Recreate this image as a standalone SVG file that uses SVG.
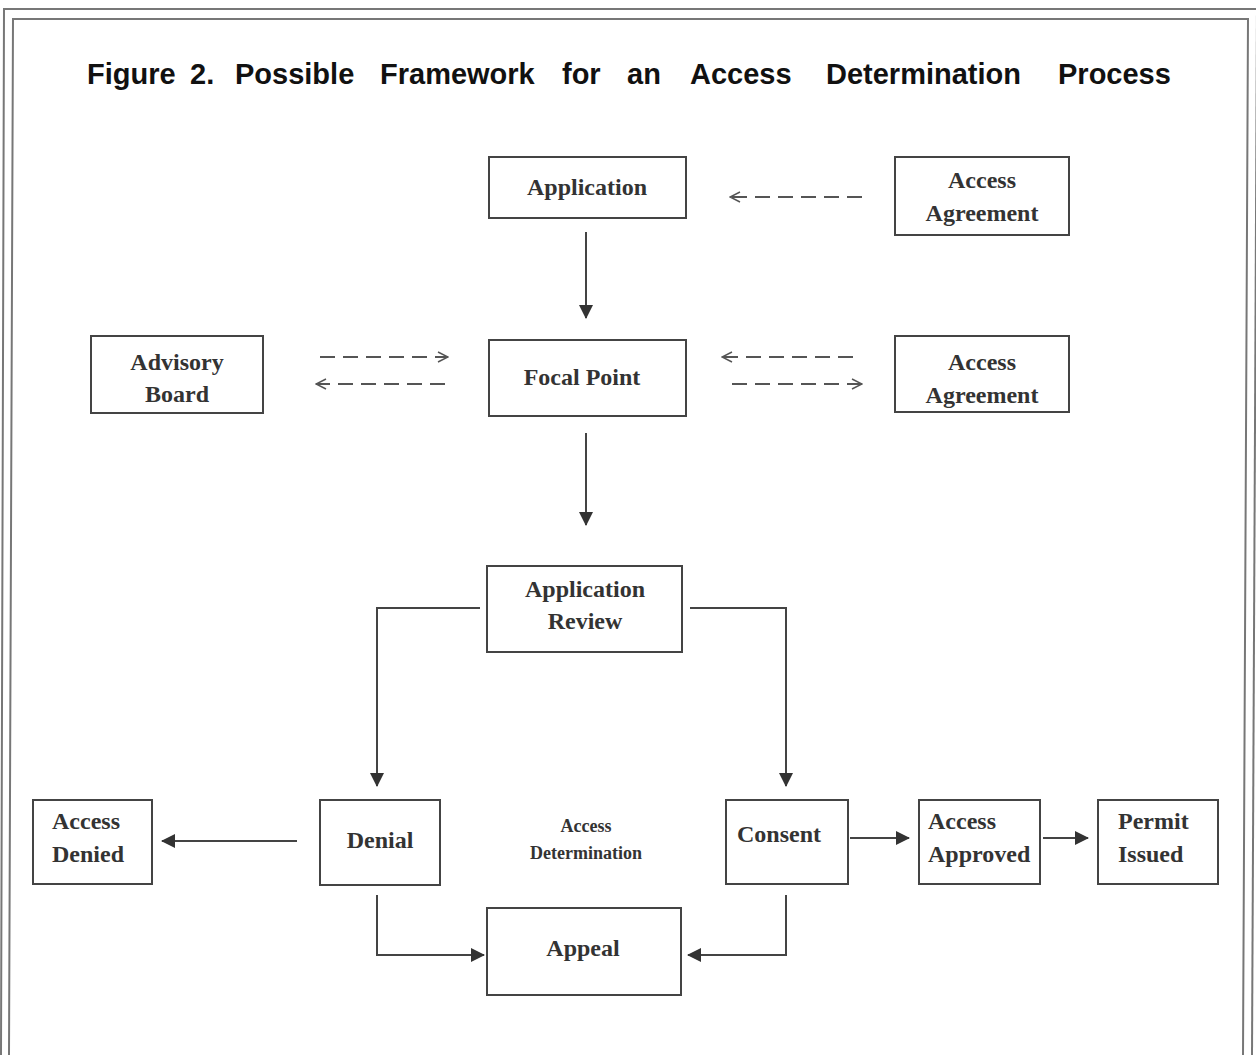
<svg xmlns="http://www.w3.org/2000/svg" width="1256" height="1055" viewBox="0 0 1256 1055">
<style>
.frame{fill:none;stroke:#777;stroke-width:2}
.box{fill:#fff;stroke:#444;stroke-width:2}
.t{font-family:"Liberation Serif","Times New Roman",serif;font-weight:bold;font-size:24px;fill:#333}
.small{font-size:18px}
.title{font-family:"Liberation Sans",Arial,sans-serif;font-weight:bold;font-size:29px;fill:#111}
.solid{fill:none;stroke:#444;stroke-width:2}
.dash{fill:none;stroke:#555;stroke-width:2;stroke-dasharray:15 8}
</style>
<defs>
<marker id="fa" viewBox="0 0 14 14" refX="13" refY="7" markerWidth="14" markerHeight="14" markerUnits="userSpaceOnUse" orient="auto">
<path d="M0,0 L14,7 L0,14 Z" fill="#333"/>
</marker>
<marker id="oa" viewBox="0 0 12 12" refX="11" refY="6" markerWidth="12" markerHeight="12" markerUnits="userSpaceOnUse" orient="auto">
<path d="M1,1 L11,6 L1,11" fill="none" stroke="#555" stroke-width="1.5"/>
</marker>
</defs>
<rect width="1256" height="1055" fill="#fff"/>
<g id="frame">
<path class="frame" d="M1,1055 L4,9 L1257,9"/>
<path class="frame" d="M9,1055 L13,19 L1248,19 L1243,1055"/>
<path class="frame" d="M1257,9 L1252,1055"/>
</g>
<text class="title" y="84"><tspan x="87">Figure</tspan><tspan x="190">2.</tspan><tspan x="235">Possible</tspan><tspan x="380">Framework</tspan><tspan x="562">for</tspan><tspan x="627">an</tspan><tspan x="690">Access</tspan><tspan x="826">Determination</tspan><tspan x="1058">Process</tspan></text>
<g id="connectors">
<line class="solid" x1="586" y1="232" x2="586" y2="318" marker-end="url(#fa)"/>
<line class="solid" x1="586" y1="433" x2="586" y2="525" marker-end="url(#fa)"/>
<line class="dash" x1="862" y1="197" x2="730" y2="197" marker-end="url(#oa)"/>
<line class="dash" x1="320" y1="357" x2="448" y2="357" marker-end="url(#oa)"/>
<line class="dash" x1="445" y1="384" x2="316" y2="384" marker-end="url(#oa)"/>
<line class="dash" x1="853" y1="357" x2="722" y2="357" marker-end="url(#oa)"/>
<line class="dash" x1="732" y1="384" x2="862" y2="384" marker-end="url(#oa)"/>
<polyline class="solid" points="480,608 377,608 377,786" marker-end="url(#fa)"/>
<polyline class="solid" points="690,608 786,608 786,786" marker-end="url(#fa)"/>
<line class="solid" x1="297" y1="841" x2="162" y2="841" marker-end="url(#fa)"/>
<line class="solid" x1="850" y1="838" x2="909" y2="838" marker-end="url(#fa)"/>
<line class="solid" x1="1043" y1="838" x2="1088" y2="838" marker-end="url(#fa)"/>
<polyline class="solid" points="377,895 377,955 484,955" marker-end="url(#fa)"/>
<polyline class="solid" points="786,895 786,955 688,955" marker-end="url(#fa)"/>
</g>
<g id="application"><rect class="box" x="489" y="157" width="197" height="61"/><text class="t" x="587" y="195" text-anchor="middle">Application</text></g>
<g id="access-agreement-1"><rect class="box" x="895" y="157" width="174" height="78"/><text class="t" x="982" y="188" text-anchor="middle">Access</text><text class="t" x="982" y="221" text-anchor="middle">Agreement</text></g>
<g id="advisory-board"><rect class="box" x="91" y="336" width="172" height="77"/><text class="t" x="177" y="370" text-anchor="middle">Advisory</text><text class="t" x="177" y="402" text-anchor="middle">Board</text></g>
<g id="focal-point"><rect class="box" x="489" y="340" width="197" height="76"/><text class="t" x="582" y="385" text-anchor="middle">Focal Point</text></g>
<g id="access-agreement-2"><rect class="box" x="895" y="336" width="174" height="76"/><text class="t" x="982" y="370" text-anchor="middle">Access</text><text class="t" x="982" y="403" text-anchor="middle">Agreement</text></g>
<g id="application-review"><rect class="box" x="487" y="566" width="195" height="86"/><text class="t" x="585" y="597" text-anchor="middle">Application</text><text class="t" x="585" y="629" text-anchor="middle">Review</text></g>
<g id="access-denied"><rect class="box" x="33" y="800" width="119" height="84"/><text class="t" x="52" y="829">Access</text><text class="t" x="52" y="862">Denied</text></g>
<g id="denial"><rect class="box" x="320" y="800" width="120" height="85"/><text class="t" x="380" y="848" text-anchor="middle">Denial</text></g>
<g id="access-determination-label"><text class="t small" x="586" y="832" text-anchor="middle">Access</text><text class="t small" x="586" y="859" text-anchor="middle">Determination</text></g>
<g id="consent"><rect class="box" x="726" y="800" width="122" height="84"/><text class="t" x="737" y="842">Consent</text></g>
<g id="access-approved"><rect class="box" x="919" y="800" width="121" height="84"/><text class="t" x="928" y="829">Access</text><text class="t" x="928" y="862">Approved</text></g>
<g id="permit-issued"><rect class="box" x="1098" y="800" width="120" height="84"/><text class="t" x="1118" y="829">Permit</text><text class="t" x="1118" y="862">Issued</text></g>
<g id="appeal"><rect class="box" x="487" y="908" width="194" height="87"/><text class="t" x="583" y="956" text-anchor="middle">Appeal</text></g>
</svg>
